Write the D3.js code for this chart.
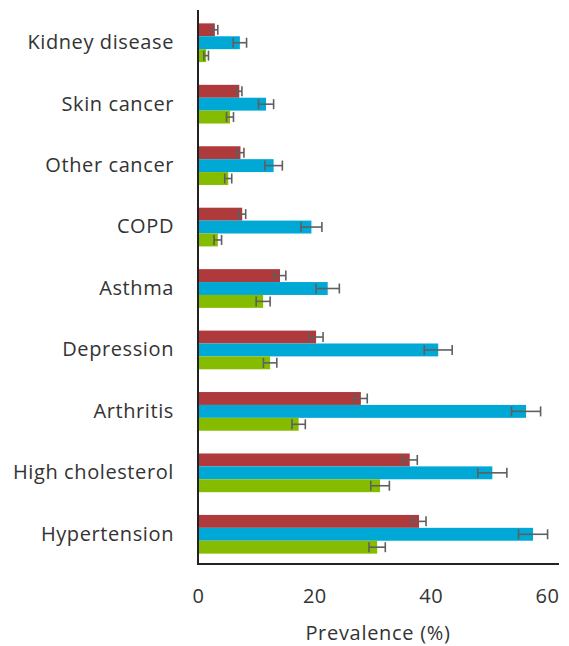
<!DOCTYPE html>
<html>
<head>
<meta charset="utf-8">
<script src="https://cdn.jsdelivr.net/npm/d3@7/dist/d3.min.js"></script>
<style>
  html, body { margin: 0; padding: 0; background: #fff; }
  svg { display: block; }
  text { font-family: "Open Sans", "Noto Sans", sans-serif; fill: #333; }
</style>
</head>
<body>
<svg id="chart" width="569" height="646"></svg>
<script>
// Conditions, listed top to bottom
const categories = ["Kidney disease", "Skin cancer", "Other cancer", "COPD", "Asthma",
  "Depression", "Arthritis", "High cholesterol", "Hypertension"];

// Three groups, each a prevalence (%) with a half-width for its error bar
const seriesNames = ["Group A", "Group B", "Group C"];
const redValues   = [2.9, 7.1, 7.3, 7.6, 14.1, 20.3, 28.0, 36.4, 38.0];
const redErrors   = [0.5, 0.45, 0.6, 0.6, 1.0, 1.2, 1.1, 1.3, 1.2];
const blueValues  = [7.2, 11.7, 13.0, 19.5, 22.3, 41.3, 56.4, 50.6, 57.6];
const blueErrors  = [1.15, 1.3, 1.5, 1.8, 2.0, 2.4, 2.5, 2.5, 2.5];
const greenValues = [1.4, 5.5, 5.2, 3.4, 11.2, 12.4, 17.3, 31.3, 30.8];
const greenErrors = [0.4, 0.6, 0.6, 0.65, 1.2, 1.15, 1.15, 1.6, 1.4];

const xTicks = [0, 20, 40, 60];
const xTitle = "Prevalence (%)";

const colors = ["#AE3A3B", "#00A8D5", "#86BC00"];

const series = [
  { name: seriesNames[0], values: redValues, errors: redErrors },
  { name: seriesNames[1], values: blueValues, errors: blueErrors },
  { name: seriesNames[2], values: greenValues, errors: greenErrors }
];

const svg = d3.select("#chart");
const plot = { left: 198, right: 559, top: 12, bottom: 565 };

const x = d3.scaleLinear().domain([0, 60]).range([plot.left, 547]);
const y = d3.scaleBand().domain(categories).range([plot.top, plot.bottom])
  .paddingInner(0.37).paddingOuter(0.185);
const ySub = d3.scaleBand().domain(seriesNames).range([0, y.bandwidth()]);

// Bars
const groups = svg.append("g").selectAll("g")
  .data(categories)
  .join("g")
  .attr("transform", d => `translate(0,${y(d)})`);

const rows = (c, i) => series.map((s, k) => ({ s: s.name, v: s.values[i], e: s.errors[i], k }));

groups.selectAll("rect")
  .data(rows)
  .join("rect")
  .attr("x", x(0))
  .attr("y", d => ySub(d.s))
  .attr("width", d => x(d.v) - x(0))
  .attr("height", ySub.bandwidth())
  .attr("fill", d => colors[d.k]);

// Error bars
const errG = groups.selectAll("g.err")
  .data(rows)
  .join("g")
  .attr("class", "err")
  .attr("stroke", "#5f5f5f")
  .attr("stroke-width", 1.6)
  .attr("fill", "none");

const capH = 5;
const midY = d => ySub(d.s) + ySub.bandwidth() / 2;
errG.append("line")
  .attr("x1", d => x(d.v - d.e)).attr("x2", d => x(d.v + d.e))
  .attr("y1", midY).attr("y2", midY);
errG.append("line")
  .attr("x1", d => x(d.v - d.e)).attr("x2", d => x(d.v - d.e))
  .attr("y1", d => midY(d) - capH).attr("y2", d => midY(d) + capH);
errG.append("line")
  .attr("x1", d => x(d.v + d.e)).attr("x2", d => x(d.v + d.e))
  .attr("y1", d => midY(d) - capH).attr("y2", d => midY(d) + capH);

// Axis lines
svg.append("line")
  .attr("x1", plot.left).attr("x2", plot.left)
  .attr("y1", 10).attr("y2", 564)
  .attr("stroke", "#222").attr("stroke-width", 2);
svg.append("line")
  .attr("x1", plot.left - 1).attr("x2", plot.right)
  .attr("y1", 564).attr("y2", 564)
  .attr("stroke", "#222").attr("stroke-width", 2);

// Category labels
const yAxis = d3.axisLeft(y).tickSize(0).tickPadding(24);
const yg = svg.append("g").attr("transform", `translate(${plot.left},0)`).call(yAxis);
yg.select(".domain").remove();
yg.selectAll("text").attr("font-size", 20).attr("fill", "#333")
  .attr("letter-spacing", 0.6)
  .style("font-family", "'Open Sans', sans-serif");

// Value axis
const xAxis = d3.axisBottom(x).tickValues(xTicks).tickSize(0).tickPadding(25);
const xg = svg.append("g").attr("transform", `translate(0,564)`).call(xAxis);
xg.select(".domain").remove();
xg.selectAll("text").attr("font-size", 20).attr("fill", "#333")
  .attr("letter-spacing", 0.5)
  .style("font-family", "'Open Sans', sans-serif");

svg.append("text")
  .attr("x", 378)
  .attr("y", 640)
  .attr("text-anchor", "middle")
  .attr("font-size", 20)
  .attr("letter-spacing", 0.7)
  .text(xTitle);
</script>
</body>
</html>
